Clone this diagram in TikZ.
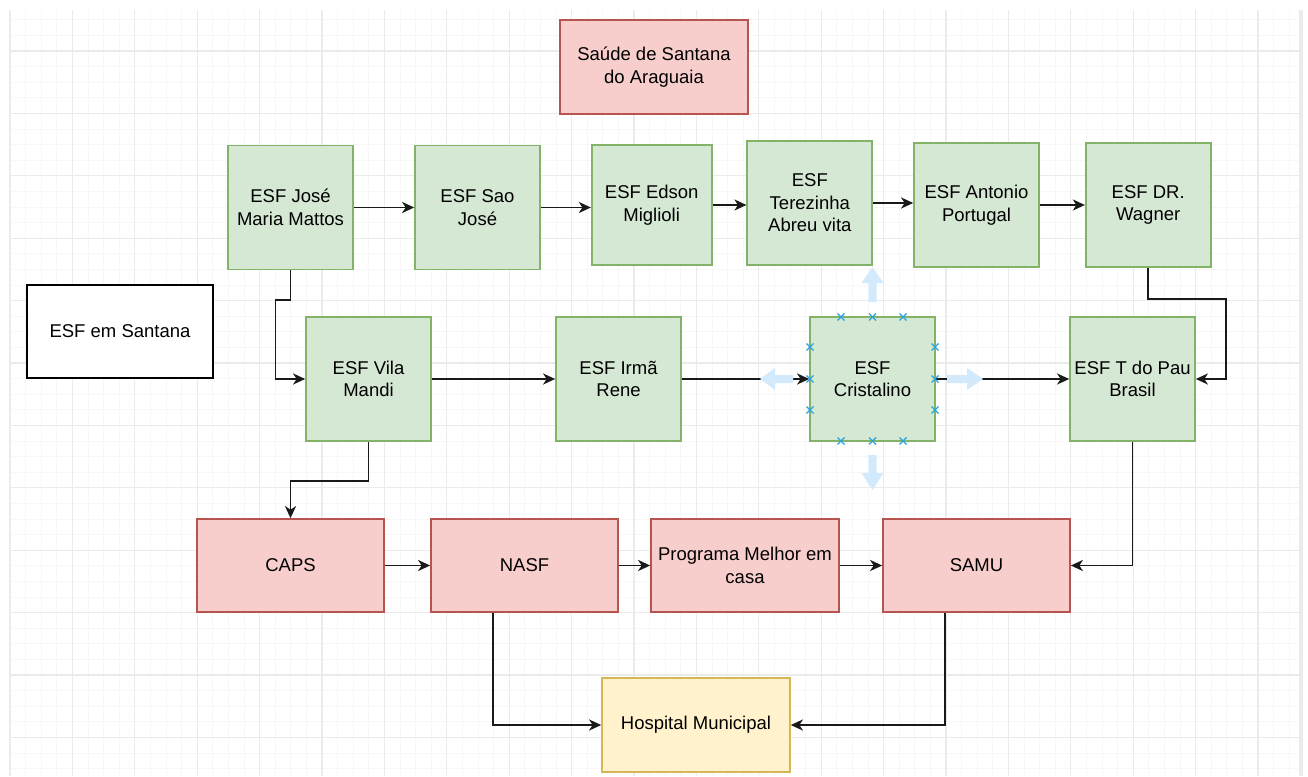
\documentclass[tikz,border=0pt]{standalone}
\usepackage{fontspec}
\setmainfont{Liberation Sans}
\usetikzlibrary{arrows.meta}

\definecolor{greenfill}{HTML}{D5E8D4}
\definecolor{greenline}{HTML}{82B366}
\definecolor{redfill}{HTML}{F8CECC}
\definecolor{redline}{HTML}{B85450}
\definecolor{yellowfill}{HTML}{FFF2CC}
\definecolor{yellowline}{HTML}{D6B656}
\definecolor{gridminor}{HTML}{F7F7F7}
\definecolor{gridmajor}{HTML}{EBEBEB}
\definecolor{handleblue}{HTML}{29A3E0}
\definecolor{hintblue}{HTML}{D2EAFB}

\begin{document}
\begin{tikzpicture}[x=1pt, y=-1pt,
  box/.style={rectangle, draw, line width=1.7pt, align=center, inner sep=2pt,
    font=\fontsize{18.5}{22.5}\selectfont},
  esf/.style={box, fill=greenfill, draw=greenline, minimum width=125pt, minimum height=124pt},
  service/.style={box, fill=redfill, draw=redline, minimum width=187pt, minimum height=93pt},
  hospital/.style={box, fill=yellowfill, draw=yellowline, minimum width=188pt, minimum height=94pt},
  legend/.style={box, fill=white, draw=black, minimum width=186pt, minimum height=93pt},
  flow/.style={-{Stealth[length=12pt, width=11pt, inset=3.5pt]}, line width=1.9pt, black!90},
  minorgrid/.style={draw=gridminor, line width=1pt},
  majorgrid/.style={draw=gridmajor, line width=1.2pt},
  handle/.style={draw=handleblue, line width=1.2pt},
  hint/.style={fill=hintblue}]

  \useasboundingbox (0,0) rectangle (1308,776);
  \fill[white] (0,0) rectangle (1308,776);

  % Background grid
  \foreach \i in {0,...,82}
    \draw[minorgrid] ({10+15.6*\i},10) -- ({10+15.6*\i},776);
  \foreach \j in {2,...,50}
    \draw[minorgrid] (9,{-11.4+15.6*\j}) -- (1299,{-11.4+15.6*\j});
  \foreach \i in {0,...,20}
    \draw[majorgrid] ({10+62.4*\i},10) -- ({10+62.4*\i},776);
  \foreach \j in {1,...,12}
    \draw[majorgrid] (9,{-11.4+62.4*\j}) -- (1299,{-11.4+62.4*\j});
  \fill[gridmajor] (1299,10) rectangle (1303,776);

  % Define the nodes
  \node[service, minimum width=188pt, minimum height=94pt] (saude) at (654,67) {Saúde de Santana\\do Araguaia};

  \node[esf] (jose) at (290.5,207.5) {ESF José\\Maria Mattos};
  \node[esf] (saojose) at (477.5,207.5) {ESF Sao\\José};
  \node[esf, minimum width=120pt, minimum height=120pt] (edson) at (651.7,205) {ESF Edson\\Miglioli};
  \node[esf] (tere) at (809.8,203) {ESF\\Terezinha\\Abreu vita};
  \node[esf] (antonio) at (976.5,205) {ESF Antonio\\Portugal};
  \node[esf] (wagner) at (1148.2,205) {ESF DR.\\Wagner};

  \node[legend] (santana) at (120,331.5) {ESF em Santana};

  \node[esf] (vila) at (368.5,379) {ESF Vila\\Mandi};
  \node[esf] (irma) at (618.5,379) {ESF Irmã\\Rene};
  \node[esf] (cristal) at (872.5,379) {ESF\\Cristalino};
  \node[esf] (pau) at (1132.5,379) {ESF T do Pau\\Brasil};

  \node[service] (caps) at (290.5,565.5) {CAPS};
  \node[service] (nasf) at (524.5,565.5) {NASF};
  \node[service, minimum width=188pt] (melhor) at (745,565.5) {Programa Melhor em\\casa};
  \node[service] (samu) at (976.5,565.5) {SAMU};

  \node[hospital] (hosp) at (696,725) {Hospital Municipal};

  % Draw arrows between the units
  \draw[flow] (jose.east) -- (jose.east -| saojose.west);
  \draw[flow] (saojose.east) -- (saojose.east -| edson.west);
  \draw[flow] (edson.east) -- (edson.east -| tere.west);
  \draw[flow] (tere.east) -- (tere.east -| antonio.west);
  \draw[flow] (antonio.east) -- (antonio.east -| wagner.west);

  \draw[flow] (jose.south) -- ++(0,30) -- ++(-15,0) |- (vila.west);
  \draw[flow] (wagner.south) -- ++(0,31) -- ++(78,0) |- (pau.east);

  \draw[flow] (vila) -- (irma);
  \draw[flow] (irma) -- (cristal);
  \draw[flow] (cristal) -- (pau);

  \draw[flow] (vila.south) -- ++(0,39) -| (caps.north);
  \draw[flow] (pau.south) |- (samu.east);

  \draw[flow] (caps) -- (nasf);
  \draw[flow] (nasf) -- (melhor);
  \draw[flow] (melhor) -- (samu);

  \draw[flow] ([xshift=-31.5pt]nasf.south) |- (hosp.west);
  \draw[flow] ([xshift=-31.5pt]samu.south) |- (hosp.east);

  % Selection hints around ESF Cristalino
  \fill[hint] (868.5,302) -- (868.5,283) -- (861.5,283) -- (872.5,267) -- (883.5,283) -- (876.5,283) -- (876.5,302) -- cycle;
  \fill[hint] (868.5,455) -- (868.5,473) -- (861.5,473) -- (872.5,490) -- (883.5,473) -- (876.5,473) -- (876.5,455) -- cycle;
  \fill[hint] (793,375) -- (775,375) -- (775,368) -- (760,379) -- (775,390) -- (775,383) -- (793,383) -- cycle;
  \fill[hint] (947,375) -- (967,375) -- (967,368) -- (983,379) -- (967,390) -- (967,383) -- (947,383) -- cycle;
  \foreach \hx in {841,872.5,903} {
    \draw[handle] (\hx-3.5,313.5) -- (\hx+3.5,320.5) (\hx-3.5,320.5) -- (\hx+3.5,313.5);
    \draw[handle] (\hx-3.5,437.5) -- (\hx+3.5,444.5) (\hx-3.5,444.5) -- (\hx+3.5,437.5);
  }
  \foreach \hy in {347,379,410} {
    \draw[handle] (806.5,\hy-3.5) -- (813.5,\hy+3.5) (806.5,\hy+3.5) -- (813.5,\hy-3.5);
    \draw[handle] (931.5,\hy-3.5) -- (938.5,\hy+3.5) (931.5,\hy+3.5) -- (938.5,\hy-3.5);
  }
\end{tikzpicture}
\end{document}
